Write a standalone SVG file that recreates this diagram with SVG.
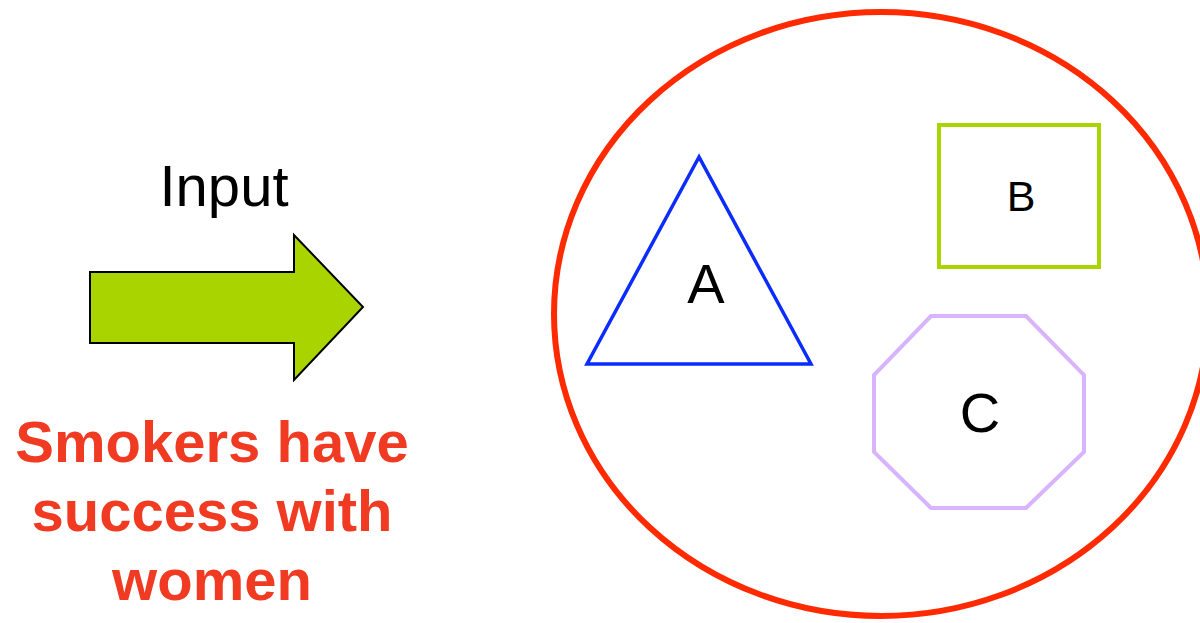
<svg xmlns="http://www.w3.org/2000/svg" width="1200" height="623" viewBox="0 0 1200 623">
<style>
.lbl{font-family:"Liberation Sans",Arial,sans-serif;fill:#000;text-anchor:middle}
.red{font-family:"Liberation Sans",Arial,sans-serif;font-weight:bold;fill:#f03a22;text-anchor:middle;font-size:58px}
</style>
<rect width="1200" height="623" fill="#fff"/>
<g id="input-label"><text class="lbl" x="224" y="206" font-size="58">Input</text></g>
<g id="arrow"><polygon points="90,272 294,272 294,235 363,307 294,380 294,343 90,343" fill="#aad400" stroke="#000" stroke-width="2"/></g>
<g id="claim">
<text class="red" x="212" y="462">Smokers have</text>
<text class="red" x="212" y="531">success with</text>
<text class="red" x="212" y="600">women</text>
</g>
<g id="container"><ellipse cx="881" cy="314" rx="327" ry="302" fill="none" stroke="#ff2a00" stroke-width="6"/></g>
<g id="nodeA"><polygon points="699,157 587,364 811,364" fill="none" stroke="#0a2cff" stroke-width="3.5"/><text class="lbl" x="706" y="303" font-size="56">A</text></g>
<g id="nodeB"><rect x="939" y="125" width="160" height="142" fill="none" stroke="#aad400" stroke-width="4"/><text class="lbl" x="1021" y="211" font-size="43">B</text></g>
<g id="nodeC"><polygon points="931,316 1026,316 1084,375 1084,452 1026,508 931,508 874,452 874,375" fill="none" stroke="#d8b4fe" stroke-width="4"/><text class="lbl" x="980" y="432" font-size="56">C</text></g>
</svg>
